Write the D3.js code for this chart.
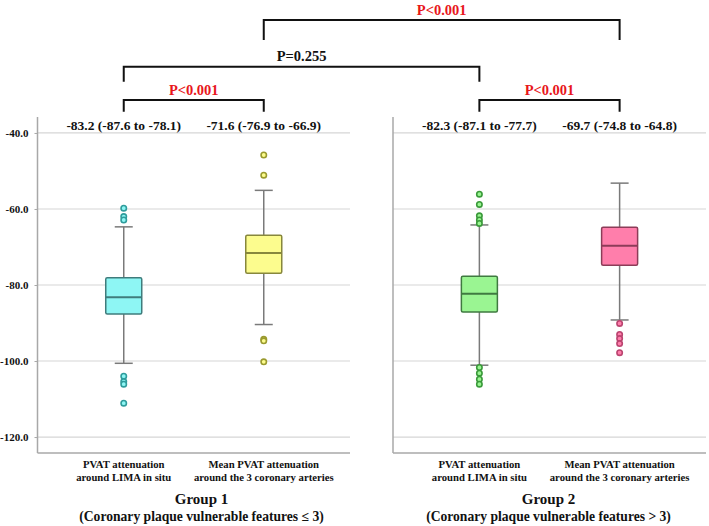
<!DOCTYPE html>
<html>
<head>
<meta charset="utf-8">
<script src="https://cdn.jsdelivr.net/npm/d3@7"></script>
<style>
  body { margin: 0; background: #fff; }
  text { font-family: "Liberation Serif", "Times New Roman", serif; font-weight: bold; }
</style>
</head>
<body>
<div id="chart"></div>
<script>
// data
var groups = ["Group 1", "Group 2"];
var groupNotes = ["(Coronary plaque vulnerable features \u2264 3)", "(Coronary plaque vulnerable features > 3)"];
var sites = [["PVAT attenuation", "around LIMA in situ"], ["Mean PVAT attenuation", "around the 3 coronary arteries"]];
var medians = [[-83.2, -71.6], [-82.3, -69.7]];
var lowerQ = [[-87.6, -76.9], [-87.1, -74.8]];
var upperQ = [[-78.1, -66.9], [-77.7, -64.8]];
var whiskerLow = [[-100.6, -90.4], [-101.1, -89.2]];
var whiskerHigh = [[-64.7, -55.1], [-64.2, -53.2]];
var outliers = [
  [[-59.8, -62.0, -62.9, -104.0, -105.4, -106.1, -111.1], [-45.8, -51.1, -94.3, -94.7, -100.2]],
  [[-56.1, -58.8, -61.8, -62.9, -63.8, -101.7, -103.2, -104.8, -106.1], [-90.1, -93.0, -94.1, -95.4, -97.8]]
];
var yTicks = [-40, -60, -80, -100, -120];
// comparisons: [group, site] vs [group, site], p text, bracket level
var comparisons = [
  {a: [0, 0], b: [0, 1], p: "P<0.001", level: 0, sig: true},
  {a: [1, 0], b: [1, 1], p: "P<0.001", level: 0, sig: true},
  {a: [0, 0], b: [1, 0], p: "P=0.255", level: 1, sig: false},
  {a: [0, 1], b: [1, 1], p: "P<0.001", level: 2, sig: true}
];

// styles
var fills = [["#8ef6f4", "#fcfc8e"], ["#9af592", "#ff7eab"]];
var edges = [["#3f7c7c", "#87873c"], ["#3f7a40", "#8c3c58"]];
var dots = [["#2f9c9c", "#9a9a2e"], ["#3a9a3a", "#bb4470"]];

var width = 709, height = 526;
var panels = [{x0: 37.5, x1: 350}, {x0: 393, x1: 706}];
var groupLabelX = [201.5, 548.5];
var bracketY = [100, 66.7, 20];
var bracketEnd = [111.7, 81.7, 40];

var svg = d3.select('#chart')
  .append('svg')
  .attr('width', width)
  .attr('height', height);

var y = d3.scaleLinear()
  .domain([-124.2, -35.8])
  .range([453, 117]);

/* one point scale per panel for the two sites */
var xs = panels.map(function(p) {
  return d3.scalePoint().domain([0, 1]).range([p.x0, p.x1]).padding(0.616);
});

panels.forEach(function(p, g) {
  var panel = svg.append('g').attr('class', 'panel');

  // gridlines
  panel.selectAll('line.grid')
    .data(yTicks)
    .enter().append('line')
    .attr('class', 'grid')
    .attr('x1', p.x0).attr('x2', p.x1)
    .attr('y1', function(d) { return y(d); })
    .attr('y2', function(d) { return y(d); })
    .attr('stroke', '#d6d6d6')
    .attr('stroke-width', 1.2);

  // axis frame
  panel.append('line')
    .attr('x1', p.x0).attr('x2', p.x0)
    .attr('y1', y.range()[1]).attr('y2', y.range()[0])
    .attr('stroke', '#a8a8a8').attr('stroke-width', 1.5);
  panel.append('line')
    .attr('x1', p.x0).attr('x2', p.x1)
    .attr('y1', y.range()[0]).attr('y2', y.range()[0])
    .attr('stroke', '#a8a8a8').attr('stroke-width', 1.5);

  var x = xs[g];

  sites.forEach(function(s, k) {
    var cx = x(k);
    var bw = 36, cap = 18;
    var b = panel.append('g').attr('class', 'box');

    // whisker
    b.append('line')
      .attr('x1', cx).attr('x2', cx)
      .attr('y1', y(whiskerHigh[g][k])).attr('y2', y(whiskerLow[g][k]))
      .attr('stroke', '#7a7a7a').attr('stroke-width', 1.5);
    [whiskerHigh[g][k], whiskerLow[g][k]].forEach(function(v) {
      b.append('line')
        .attr('x1', cx - cap / 2).attr('x2', cx + cap / 2)
        .attr('y1', y(v)).attr('y2', y(v))
        .attr('stroke', '#7a7a7a').attr('stroke-width', 1.5);
    });

    // box
    b.append('rect')
      .attr('x', cx - bw / 2)
      .attr('y', y(upperQ[g][k]))
      .attr('width', bw)
      .attr('height', y(lowerQ[g][k]) - y(upperQ[g][k]))
      .attr('rx', 1.5)
      .attr('fill', fills[g][k])
      .attr('stroke', edges[g][k])
      .attr('stroke-width', 1.5);
    b.append('line')
      .attr('x1', cx - bw / 2).attr('x2', cx + bw / 2)
      .attr('y1', y(medians[g][k])).attr('y2', y(medians[g][k]))
      .attr('stroke', edges[g][k]).attr('stroke-width', 2);

    // outliers
    b.selectAll('circle')
      .data(outliers[g][k])
      .enter().append('circle')
      .attr('cx', cx)
      .attr('cy', function(d) { return y(d); })
      .attr('r', 2.7)
      .attr('fill', fills[g][k])
      .attr('stroke', dots[g][k])
      .attr('stroke-width', 1.6);

    // summary text above
    svg.append('text')
      .attr('x', cx)
      .attr('y', 129.5)
      .attr('text-anchor', 'middle')
      .attr('font-size', '13.5px')
      .attr('fill', '#111')
      .text(medians[g][k].toFixed(1) + ' (' + lowerQ[g][k].toFixed(1) + ' to ' + upperQ[g][k].toFixed(1) + ')');

    // category label
    var lab = svg.append('text')
      .attr('text-anchor', 'middle')
      .attr('font-size', '10.7px')
      .attr('fill', '#111');
    s.forEach(function(line, i) {
      lab.append('tspan')
        .attr('x', cx)
        .attr('y', 468 + i * 13)
        .text(line);
    });
  });

  svg.append('text')
    .attr('x', groupLabelX[g])
    .attr('y', 504)
    .attr('text-anchor', 'middle')
    .attr('font-size', '15px')
    .attr('fill', '#111')
    .text(groups[g]);
  svg.append('text')
    .attr('x', groupLabelX[g])
    .attr('y', 521)
    .attr('text-anchor', 'middle')
    .attr('font-size', '13.6px')
    .attr('fill', '#111')
    .text(groupNotes[g]);
});

/* y axis tick labels on the left panel only */
var yAxis = svg.append('g')
  .attr('class', 'y_axis')
  .attr('transform', 'translate(' + panels[0].x0 + ',0)')
  .call(d3.axisLeft(y)
    .tickValues(yTicks)
    .tickSize(3)
    .tickPadding(6)
    .tickFormat(function(d) { return d.toFixed(1); }));
yAxis.select('.domain').remove();
yAxis.selectAll('.tick line').attr('stroke', '#a8a8a8');
yAxis.selectAll('.tick text')
  .attr('font-size', '11px')
  .attr('font-family', '"Liberation Serif", serif')
  .attr('font-weight', 'bold')
  .attr('fill', '#111');

/* significance brackets */
comparisons.forEach(function(c) {
  var xa = xs[c.a[0]](c.a[1]);
  var xb = xs[c.b[0]](c.b[1]);
  var top = bracketY[c.level], bot = bracketEnd[c.level];
  svg.append('path')
    .attr('d', 'M' + xa + ',' + bot + 'V' + top + 'H' + xb + 'V' + bot)
    .attr('fill', 'none')
    .attr('stroke', '#111')
    .attr('stroke-width', 2);
  svg.append('text')
    .attr('x', (xa + xb) / 2)
    .attr('y', top - 5.5)
    .attr('text-anchor', 'middle')
    .attr('font-size', '14.5px')
    .attr('fill', c.sig ? '#e8161b' : '#111')
    .text(c.p);
});
</script>
</body>
</html>
